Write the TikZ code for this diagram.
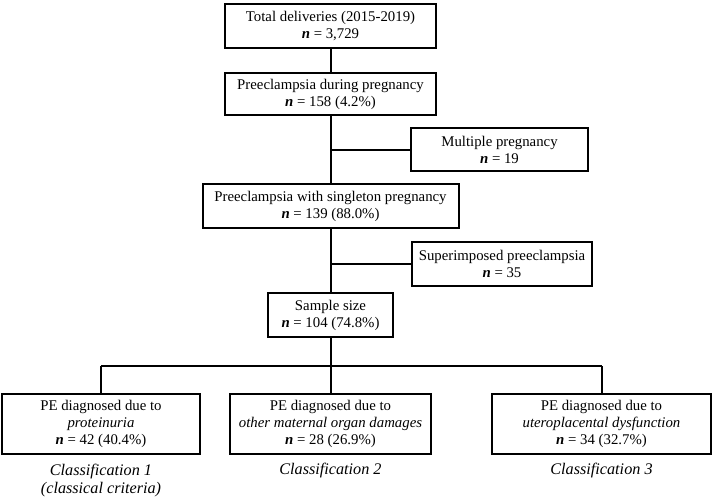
\documentclass[tikz,border=0pt]{standalone}
\usepackage{fontspec}
\setmainfont{Liberation Serif}[Ligatures=TeX]
\begin{document}
\begin{tikzpicture}[x=1pt,y=-1pt,
  box/.style={draw, line width=2pt, align=center, inner sep=0pt,
    font=\rmfamily\fontsize{14.8}{17}\selectfont},
  conn/.style={line width=2pt},
  lab/.style={align=center, inner sep=0pt, font=\rmfamily\fontsize{16.2}{18}\selectfont\itshape}]
\useasboundingbox (0,0) rectangle (712,498);
\newcommand{\nn}{\textbf{\textit{n}}}
\node[box, minimum width=211pt, minimum height=44pt] (b1) at (330.5,26) {Total deliveries (2015-2019)\\ \nn{} = 3,729};
\node[box, minimum width=211pt, minimum height=42pt] (b2) at (330.5,94) {Preeclampsia during pregnancy\\ \nn{} = 158 (4.2\%)};
\node[box, minimum width=177pt, minimum height=43pt] (mult) at (499.5,149.5) {Multiple pregnancy\\ \nn{} = 19};
\node[box, minimum width=256pt, minimum height=44pt] (b3) at (330.5,206) {Preeclampsia with singleton pregnancy\\ \nn{} = 139 (88.0\%)};
\node[box, minimum width=180pt, minimum height=44pt] (sup) at (502,264) {Superimposed preeclampsia\\ \nn{} = 35};
\node[box, minimum width=125pt, minimum height=44pt] (b4) at (330.5,315) {Sample size\\ \nn{} = 104 (74.8\%)};
\node[box, minimum width=198pt, minimum height=60pt] (c1) at (101,424) {PE diagnosed due to\\ \textit{proteinuria}\\ \nn{} = 42 (40.4\%)};
\node[box, minimum width=201pt, minimum height=60pt] (c2) at (330.5,424) {PE diagnosed due to\\ \textit{other maternal organ damages}\\ \nn{} = 28 (26.9\%)};
\node[box, minimum width=219pt, minimum height=60pt] (c3) at (601.5,424) {PE diagnosed due to\\ \textit{uteroplacental dysfunction}\\ \nn{} = 34 (32.7\%)};
\node[lab] (l1) at ([yshift=-26pt]c1.south) {Classification 1\\ (classical criteria)};
\node[lab] (l2) at ([yshift=-16pt]c2.south) {Classification 2};
\node[lab] (l3) at ([yshift=-16pt]c3.south) {Classification 3};
\coordinate (split) at (330.5,366);
\draw[conn] (b1) -- (b2);
\draw[conn] (b2) -- (b3);
\draw[conn] (b3) -- (b4);
\draw[conn] (b2.south |- mult.west) -- (mult.west);
\draw[conn] (b3.south |- sup.west) -- (sup.west);
\draw[conn] (b4) -- (c2);
\draw[conn] (split -| c1) -- (split -| c3);
\draw[conn] (split -| c1) -- (c1);
\draw[conn] (split -| c3) -- (c3);
\end{tikzpicture}
\end{document}
